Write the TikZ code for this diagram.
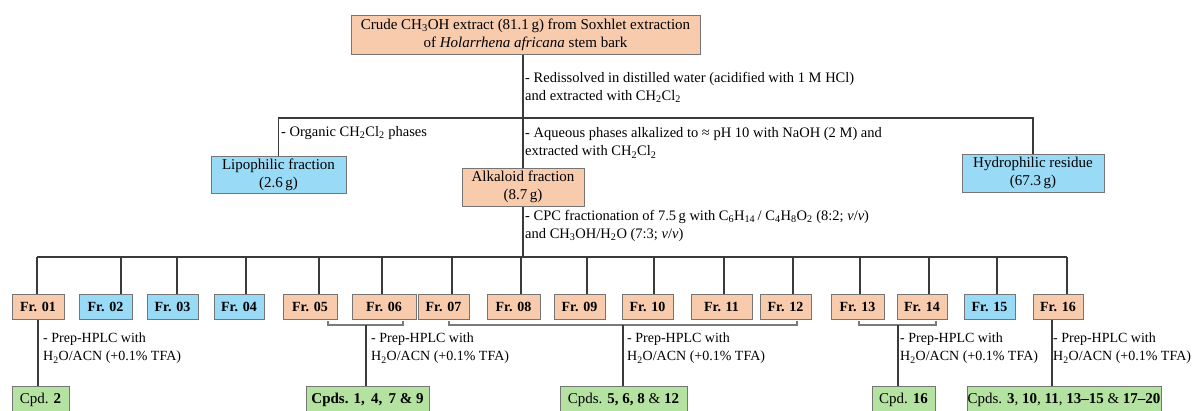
\documentclass[tikz,border=0pt]{standalone}
\usepackage{fontspec}
\setmainfont{Liberation Serif}
\definecolor{salm}{HTML}{F8CBAD}
\definecolor{blu}{HTML}{99DAF6}
\definecolor{grn}{HTML}{B4E3A1}
\definecolor{boxgray}{HTML}{757575}
\definecolor{linegray}{HTML}{3A3A3A}
\definecolor{brgray}{HTML}{7A7A7A}
\newcommand\myfs[1]{\fontsize{#1}{18}\selectfont}
\newcommand\sub[1]{\textsubscript{#1}}
\begin{document}
\begin{tikzpicture}[x=1pt,y=-1pt,
  box/.style={draw=boxgray, line width=1pt, inner sep=0pt, align=center, font=\myfs{15}},
  salbox/.style={box, fill=salm},
  blubox/.style={box, fill=blu},
  grnbox/.style={box, fill=grn, anchor=north, text height=15pt, text depth=12pt, inner ysep=2pt},
  frbox/.style={draw=boxgray, line width=1pt, inner sep=0pt, minimum height=25pt, font=\myfs{14}\bfseries},
  conn/.style={draw=linegray, line width=1.3pt},
  brk/.style={draw=brgray, line width=1.2pt},
  lbl/.style={anchor=west, align=left, inner sep=0pt, font=\myfs{14.5}},
  hlbl/.style={anchor=west, align=left, inner sep=0pt, font=\myfs{14}}]
\useasboundingbox (0,0) rectangle (1192,410);
\clip (0,0) rectangle (1192,410);
\fill[white] (0,0) rectangle (1192,410);

% upper boxes
\node[salbox, minimum width=349pt, minimum height=39pt] (top) at (525.5,34.5)
  {Crude CH\sub{3}OH extract (81.1\,g) from Soxhlet extraction\\ of \textit{Holarrhena africana} stem bark};
\node[blubox, minimum width=135pt, minimum height=37pt] (lip) at (278.5,174.5)
  {Lipophilic fraction\\(2.6\,g)};
\node[salbox, minimum width=122pt, minimum height=38pt] (alk) at (523,187)
  {Alkaloid fraction\\(8.7\,g)};
\node[blubox, minimum width=142pt, minimum height=38pt] (hyd) at (1033,173)
  {Hydrophilic residue\\(67.3\,g)};

\coordinate (b1) at (523,118);
\draw[conn] (top.south -| alk.north) -- (alk.north);
\draw[conn] (lip.north) |- (b1) -| (hyd.north);

\node[lbl] (l1) at (525,87) {- Redissolved in distilled water (acidified with 1 M HCl)\\and extracted with CH\sub{2}Cl\sub{2}};
\node[lbl] (l2) at (281,133) {- Organic CH\sub{2}Cl\sub{2} phases};
\node[lbl] (l3) at (525,143) {- Aqueous phases alkalized to ≈ pH 10 with NaOH (2 M) and\\extracted with CH\sub{2}Cl\sub{2}};
\node[lbl] (l4) at (525,226) {- CPC fractionation of 7.5\,g with C\sub{6}H\sub{14}\,/ C\sub{4}H\sub{8}O\sub{2} (8:2; \textit{v}/\textit{v})\\and CH\sub{3}OH/H\sub{2}O (7:3; \textit{v}/\textit{v})};

% fraction bus
\coordinate (busL) at (37,257);
\coordinate (busR) at (1067,257);
\draw[conn] (alk.south) -- (alk.south |- busL);
\draw[conn] (busL) -- (busR);

\foreach \n/\c/\w/\d/\col in {01/38/52/37/salm, 02/105.5/53/121/blu, 03/172.5/51/177/blu, 04/239/50/246/blu,
  05/310/54/319/salm, 06/384/64/382/salm, 07/443.5/51/452/salm, 08/513.5/53/521/salm,
  09/579.5/51/587/salm, 10/647.5/51/654/salm, 11/721.5/61/724/salm, 12/785.5/51/793/salm,
  13/857.5/53/860/salm, 14/922/50/929/salm, 15/989.5/51/997/blu, 16/1058/50/1067/salm} {
  \node[frbox, fill=\col, minimum width=\w pt] (fr\n) at (\c,306.5) {Fr. \n};
  \draw[conn] (\d,257) -- (fr\n.north -| \d,0);
}

% compound boxes
\node[grnbox, minimum width=57pt] (cpd2) at (40.5,386) {Cpd. \textbf{2}};
\node[grnbox, minimum width=123pt] (cpdA) at (367.5,386) {\textbf{Cpds. 1,\, 4,\, 7 \& 9}};
\node[grnbox, minimum width=127pt] (cpdB) at (623.5,386) {Cpds. \textbf{5, 6, 8} \& \textbf{12}};
\node[grnbox, minimum width=63pt] (cpdC) at (903.5,386) {Cpd. \textbf{16}};
\node[grnbox, minimum width=194pt] (cpdD) at (1064,386) {Cpds. \textbf{3}, \textbf{10}, \textbf{11}, \textbf{13--15} \& \textbf{17--20}};

% brackets
\draw[brk] (328,321) -- (328,325) -- (403,325) -- (403,321);
\draw[brk] (449,321) -- (449,325) -- (797,325) -- (797,321);
\draw[brk] (859,321) -- (859,325) -- (936,325) -- (936,321);
\coordinate (brA) at (366,325);
\coordinate (brB) at (623,325);
\coordinate (brC) at (898,325);

\draw[conn] (fr01.south) -- (fr01.south |- cpd2.north);
\draw[conn] (brA) -- (cpdA.north -| brA);
\draw[conn] (brB) -- (cpdB.north -| brB);
\draw[conn] (brC) -- (cpdC.north -| brC);
\draw[conn] ([xshift=-6pt]fr16.south) -- ([xshift=-6pt]fr16.south |- cpdD.north);

% HPLC labels
\foreach \x/\nm in {43/h1, 371/h2, 627/h3, 900/h4, 1053/h5} {
  \node[hlbl] (\nm) at (\x,348.5) {- Prep-HPLC with\\H\sub{2}O/ACN (+0.1\% TFA)};
}
\end{tikzpicture}
\end{document}
